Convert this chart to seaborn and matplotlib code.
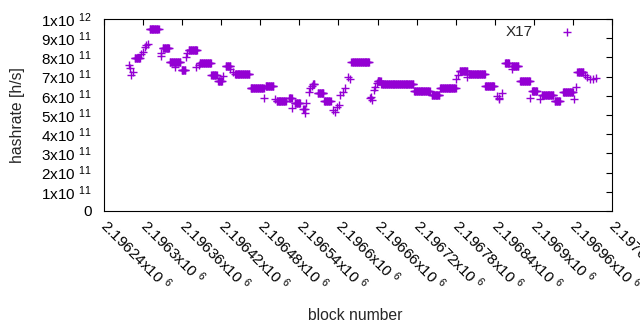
import numpy as np
import pandas as pd
import matplotlib
matplotlib.use("Agg")
import matplotlib.pyplot as plt
import seaborn as sns

# ---- data ----
base_block = 2196240
# runs of consecutive blocks sharing the same estimate: first/last block offset, hashrate (x1e11 h/s)
seg_first = [39, 40, 42, 44, 47, 57, 60, 63, 65, 67, 70, 87, 88, 90, 101, 109, 119, 126, 128, 130,
             142, 146, 147, 165, 175, 183, 187, 193, 198, 201, 225, 246, 248, 263, 265, 284, 289,
             293, 306, 309, 310, 315, 316, 319, 321, 328, 338, 352, 355, 357, 361, 363, 367, 370,
             375, 378, 380, 409, 410, 411, 415, 416, 419, 420, 426, 476, 503, 516, 541, 544, 546,
             557, 560, 585, 603, 606, 607, 611, 616, 626, 626, 639, 654, 657, 669, 672, 692, 705,
             722, 725, 727, 739, 742, 746, 751, 755]
seg_last = [39, 40, 42, 44, 55, 57, 60, 63, 65, 67, 84, 87, 88, 100, 117, 109, 125, 126, 128, 143,
            142, 146, 164, 173, 181, 183, 194, 193, 198, 223, 245, 246, 260, 263, 279, 288, 289,
            301, 308, 309, 310, 315, 316, 319, 323, 337, 348, 352, 355, 357, 361, 363, 367, 370,
            375, 378, 407, 409, 410, 411, 415, 416, 419, 425, 475, 500, 515, 540, 541, 544, 558,
            557, 585, 599, 603, 606, 607, 611, 622, 626, 636, 654, 654, 665, 669, 690, 700, 720,
            722, 725, 736, 739, 742, 746, 751, 755]
seg_rate = [7.60, 7.45, 7.08, 7.22, 7.95, 8.20, 8.30, 8.55, 8.62, 8.72, 9.46, 8.21, 8.07, 8.47, 7.78,
            7.52, 7.33, 8.04, 8.21, 8.37, 7.48, 7.60, 7.69, 7.07, 6.77, 7.05, 7.57, 7.38, 7.26, 7.12,
            6.39, 5.87, 6.49, 5.82, 5.73, 5.87, 5.35, 5.64, 5.30, 5.09, 5.64, 6.21, 6.39, 6.51, 6.61,
            6.13, 5.73, 5.26, 5.17, 5.40, 5.52, 6.04, 6.21, 6.39, 7.00, 6.86, 7.74, 5.87, 5.95, 5.80,
            6.30, 6.47, 6.68, 6.77, 6.61, 6.23, 6.04, 6.39, 6.88, 7.08, 7.28, 7.00, 7.12, 6.51, 6.00,
            5.87, 5.82, 6.13, 7.70, 7.38, 7.55, 6.76, 5.90, 6.25, 5.83, 6.04, 5.74, 6.18, 5.83, 6.47,
            7.22, 7.08, 7.00, 6.88, 6.88, 6.94]
series_name = "X17"

x_ticks = [2196240 + 60 * i for i in range(14)]
x_ticklabels = ["2.19624", "2.1963", "2.19636", "2.19642", "2.19648", "2.19654", "2.1966",
                "2.19666", "2.19672", "2.19678", "2.19684", "2.1969", "2.19696", "2.19702"]
y_ticks = [i * 1e11 for i in range(11)]
y_mantissa = ["0", "1", "2", "3", "4", "5", "6", "7", "8", "9", "1"]
y_exponent = ["", "11", "11", "11", "11", "11", "11", "11", "11", "11", "12"]

# expand runs into one point per block
blocks = np.concatenate([np.arange(a, b + 1) for a, b in zip(seg_first, seg_last)]) + base_block
rates = np.concatenate([np.full(b - a + 1, r) for a, b, r in zip(seg_first, seg_last, seg_rate)]) * 1e11
df = pd.DataFrame({"block": blocks, "hashrate": rates, "series": series_name})

# ---- style ----
sns.set_style("white")
plt.rcParams["font.family"] = ["Liberation Sans", "DejaVu Sans"]
plt.rcParams["mathtext.fontset"] = "custom"
plt.rcParams["mathtext.rm"] = "Liberation Sans"
plt.rcParams["mathtext.it"] = "Liberation Sans:italic"
plt.rcParams["mathtext.bf"] = "Liberation Sans:bold"

fig = plt.figure(figsize=(6.4, 3.3), dpi=100)
ax = fig.add_axes([104 / 640, 1 - 211 / 330, 508 / 640, 192 / 330])

sns.scatterplot(data=df, x="block", y="hashrate", marker="+", color="#9400d3",
                s=28, linewidth=1.0, ax=ax, legend=False)

ax.set_xlim(x_ticks[0], x_ticks[-1])
ax.set_ylim(0, 1e12)

ax.set_xticks(x_ticks)
ax.set_xticklabels([f"{t}x10 $^{{6}}$" for t in x_ticklabels], rotation=-45,
                   ha="left", va="center", rotation_mode="anchor", fontsize=11)
ax.set_yticks(y_ticks)
ax.set_yticklabels([m if e == "" else f"{m}x10 $^{{{e}}}$" for m, e in zip(y_mantissa, y_exponent)],
                   fontsize=11)

ax.tick_params(axis="both", direction="in", length=4.5, width=0.8, top=True, right=True,
               labeltop=False, labelright=False, colors="black")
ax.tick_params(axis="y", pad=9)
ax.tick_params(axis="x", pad=8)
for sp in ax.spines.values():
    sp.set_visible(True)
    sp.set_color("black")
    sp.set_linewidth(0.8)

ax.set_xlabel("")
ax.set_ylabel("")
fig.text(18 / 640, 1 - 115 / 330, "hashrate [h/s]", rotation=90, ha="center", va="center",
         fontsize=11.3)
fig.text(355 / 640, 1 - 315 / 330, "block number", ha="center", va="center", fontsize=11.3)

h = ax.scatter([], [], marker="+", color="#9400d3", s=28, linewidth=1.0)
ax.legend([h], [series_name], loc="upper right", bbox_to_anchor=(0.962, 1.022), frameon=False,
          markerfirst=False, handletextpad=1.2, fontsize=11, borderaxespad=0.3)

fig.savefig("out.png", dpi=100)
